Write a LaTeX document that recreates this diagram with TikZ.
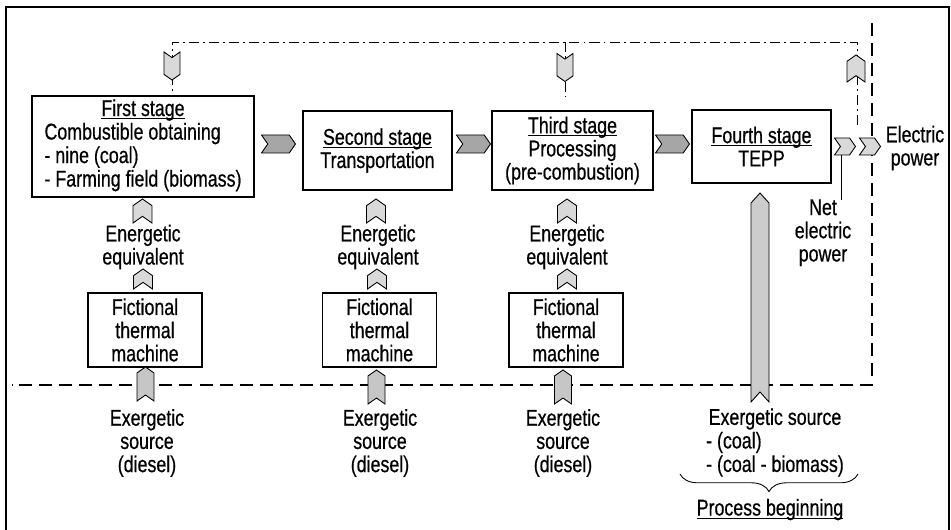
\documentclass[tikz,border=0pt]{standalone}
\usepackage{fontspec}
\setmainfont{Liberation Sans}[FakeStretch=0.78,FakeBold=0.6]
\usetikzlibrary{positioning,shapes.symbols,decorations.pathreplacing}

\begin{document}
\begin{tikzpicture}[
  x=0.02cm, y=-0.02cm,
  font=\fontsize{13pt}{13.2pt}\selectfont,
  box/.style={rectangle, draw, line width=0.6pt, inner sep=1pt, align=center},
  lbl/.style={align=center, inner sep=0pt},
  chev/.style={signal, draw, line width=0.5pt, inner sep=0pt,
               signal from=west, signal to=east, signal pointer angle=110},
  hchev/.style={chev, minimum width=0.68cm, minimum height=0.36cm, fill=gray!70},
  nchev/.style={chev, minimum width=0.42cm, minimum height=0.34cm, fill=gray!30},
  dchev/.style={chev, rotate=-90, minimum width=0.56cm, minimum height=0.32cm, fill=gray!30},
  uchev/.style={chev, rotate=90, minimum width=0.48cm, minimum height=0.38cm, fill=gray!30},
  xchev/.style={chev, rotate=90, minimum width=0.68cm, minimum height=0.34cm, fill=gray!45},
  longdash/.style={line width=0.6pt, dash pattern=on 7.4pt off 4pt},
  dashdot/.style={line width=0.5pt, dash pattern=on 5.7pt off 2.3pt on 1.1pt off 2.3pt}
]
  \useasboundingbox (0,0) rectangle (951,530);
  \draw[line width=0.8pt] (6,530) -- (6,7) -- (949,7) -- (949,530);

  \node[box, minimum width=4.44cm, minimum height=2.02cm] (fs) at (143,146.5)
    {\begin{tabular}{@{}l@{}}\multicolumn{1}{@{}c@{}}{\underbar{First stage}}\\
     Combustible obtaining\\- nine (coal)\\- Farming field (biomass)\end{tabular}};
  \node[box, minimum width=2.98cm, minimum height=1.58cm] (ss) at (377.5,150.5)
    {\underbar{Second stage}\\Transportation};
  \node[box, minimum width=3.22cm, minimum height=1.58cm] (ts) at (572.5,150.5)
    {\underbar{Third stage}\\Processing\\(pre-combustion)};
  \node[box, minimum width=2.78cm, minimum height=1.46cm] (fo) at (761.5,146.5)
    {\underbar{Fourth stage}\\TEPP};

  \node[box, minimum width=2.28cm, minimum height=1.48cm] (ftm1) at (145,330)
    {Fictional\\thermal\\machine};
  \node[box, minimum width=2.28cm, minimum height=1.48cm] (ftm2) at (379.5,330)
    {Fictional\\thermal\\machine};
  \node[box, minimum width=2.28cm, minimum height=1.48cm] (ftm3) at (566,330)
    {Fictional\\thermal\\machine};

  \coordinate (tl) at (172,42);
  \coordinate (tm) at (565,42);
  \coordinate (tr) at (857,42);
  \coordinate (fb) at (857,125);
  \coordinate (te) at (565,97);
  \draw[dashdot] (fb) -- (tr) -- (tl) -- (tl |- fs.north);
  \draw[dashdot] (tm) -- (te);

  \coordinate (rt) at (872,23);
  \coordinate (rb) at (872,385);
  \coordinate (lb) at (12,385);
  \draw[longdash] (rt) -- (rb) -- (lb);

  \node[dchev] (d1) at (172,66) {};
  \node[dchev] (d3) at (565,67.5) {};
  \node[uchev, minimum width=0.54cm, minimum height=0.36cm] (u4) at (856,68.5) {};

  \node[hchev] (h12) at (278.5,144) {};
  \node[hchev] (h23) at (473.5,144) {};
  \node[hchev] (h34) at (672.5,144) {};
  \node[nchev] (np) at (845,146.5) {};
  \node[nchev] (ep) at (870,146.5) {};

  \coordinate (nl) at (841,200);
  \draw[line width=0.5pt] (nl |- np.south) -- (nl);
  \node[lbl, anchor=north] (netl) at (823,199) {Net\\electric\\power};
  \node[lbl] (epl) at (915,148) {Electric\\power};

  \node[uchev] (e1) at (142.5,211) {};
  \node[uchev] (e2) at (376,211) {};
  \node[uchev] (e3) at (567,211) {};
  \node[lbl] (el1) at (143,247) {Energetic\\equivalent};
  \node[lbl] (el2) at (378,247) {Energetic\\equivalent};
  \node[lbl] (el3) at (567,247) {Energetic\\equivalent};
  \node[uchev, minimum width=0.4cm] (f1) at (143,279) {};
  \node[uchev, minimum width=0.4cm] (f2) at (377,279) {};
  \node[uchev, minimum width=0.4cm] (f3) at (567,279) {};

  \node[xchev] (x1) at (145.5,384) {};
  \node[xchev] (x2) at (376.5,387) {};
  \node[xchev] (x3) at (563,387) {};
  \node[lbl] (xl1) at (147,443) {Exergetic\\source\\(diesel)};
  \node[lbl] (xl2) at (380,443) {Exergetic\\source\\(diesel)};
  \node[lbl] (xl3) at (563,443) {Exergetic\\source\\(diesel)};

  \node[chev, rotate=90, signal pointer angle=84,
        minimum width=4.18cm, minimum height=0.36cm, fill=gray!40]
        (src) at (760,297.5) {};
  \node[lbl, anchor=north] (srcl) at (775,408)
    {\begin{tabular}{@{}l@{}}\multicolumn{1}{@{}c@{}}{Exergetic source}\\
     - (coal)\\- (coal - biomass)\end{tabular}};
  \draw[line width=0.5pt, decorate, decoration={brace, amplitude=10pt}]
    (858,474) -- (680,474);
  \node[lbl] (pb) at (770,509) {\underbar{Process beginning}};
\end{tikzpicture}
\end{document}
